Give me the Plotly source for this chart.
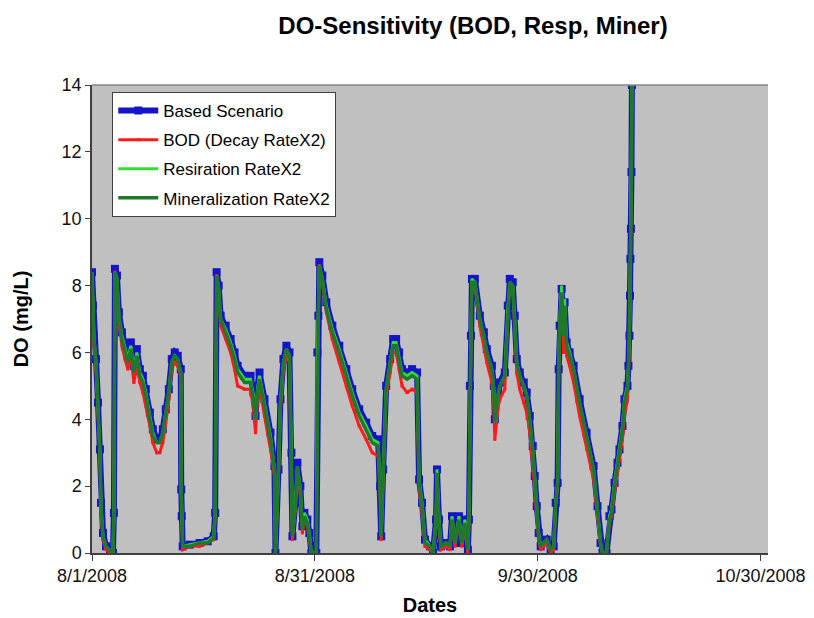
import pandas as pd
import plotly.graph_objects as go

# fractional days since 2008-08-01
days = [
    0.00, 0.13, 0.27, 0.54, 0.81, 1.07, 1.21, 1.48, 1.88, 2.42,
    2.82, 2.95, 3.09, 3.36, 3.62, 4.03, 4.43, 4.83, 5.23, 5.64,
    6.04, 6.44, 6.85, 7.25, 7.79, 8.19, 8.72, 9.13, 9.53, 9.93,
    10.34, 10.74, 11.14, 11.54, 11.95, 12.01, 12.08, 12.21, 13.15, 14.50,
    15.57, 16.38, 16.58, 16.78, 17.05, 17.32, 17.99, 18.66, 19.19, 19.60,
    20.54, 21.34, 21.74, 22.01, 22.28, 22.55, 23.22, 24.03, 24.56, 24.70,
    25.10, 25.37, 25.77, 26.17, 26.58, 26.85, 26.98, 27.38, 27.65, 28.05,
    28.32, 28.59, 28.99, 29.26, 29.53, 30.20, 30.34, 30.47, 30.60, 31.01,
    31.54, 32.35, 33.29, 34.23, 35.03, 35.97, 36.91, 37.72, 38.52, 38.79,
    38.93, 39.19, 39.60, 40.13, 40.54, 40.94, 41.34, 41.74, 42.42, 43.09,
    43.76, 44.03, 44.43, 44.83, 45.50, 45.91, 46.31, 46.44, 46.71, 46.98,
    47.65, 48.19, 48.46, 48.86, 49.40, 49.80, 50.20, 50.60, 50.74, 50.87,
    51.01, 51.14, 51.54, 52.21, 52.75, 53.15, 53.83, 54.09, 54.23, 54.63,
    54.90, 55.57, 55.97, 56.24, 56.64, 56.91, 57.18, 57.58, 58.12, 58.52,
    58.93, 59.33, 59.60, 59.87, 60.13, 60.40, 61.21, 61.74, 62.15, 62.42,
    62.68, 62.82, 62.95, 63.22, 63.49, 63.62, 63.89, 64.30, 64.83, 65.64,
    66.58, 67.52, 68.05, 68.46, 68.72, 69.26, 69.66, 69.93, 70.34, 70.74,
    71.01, 71.41, 71.68, 72.08, 72.21, 72.35, 72.42, 72.48, 72.55, 72.62, 72.68,
]

base_scenario = [
    8.4, 7.4, 6.5, 5.8, 4.5, 3.1, 1.5, 0.6, 0.2, 0.1,
    0.0, 1.2, 8.5, 8.3, 7.2, 6.6, 6.2, 5.9, 6.3, 5.6,
    6.1, 5.5, 5.3, 4.9, 4.2, 3.7, 3.4, 3.4, 3.7, 4.3,
    4.9, 5.8, 6.0, 5.9, 5.5, 1.9, 1.1, 0.2, 0.25, 0.3,
    0.35, 0.5, 1.2, 8.4, 8.0, 7.1, 6.8, 6.4, 6.0, 5.6,
    5.3, 5.3, 4.8, 4.1, 5.0, 5.4, 4.6, 3.6, 2.6, 0.0,
    2.5, 4.6, 5.8, 6.2, 6.0, 3.0, 0.5, 1.5, 2.7, 2.0,
    0.8, 1.2, 1.0, 0.6, 0.0, 0.0, 6.0, 7.1, 8.7, 8.3,
    7.5, 6.8, 6.2, 5.5, 4.9, 4.3, 3.9, 3.5, 3.4, 2.0,
    0.5, 2.5, 5.0, 5.8, 6.4, 6.4, 6.0, 5.5, 5.4, 5.5,
    5.4, 2.2, 1.5, 0.4, 0.2, 0.0, 1.0, 2.5, 1.0, 0.2,
    0.3, 0.2, 1.1, 0.3, 1.1, 0.3, 1.0, 0.1, 1.0, 5.0,
    6.5, 8.2, 8.2, 7.1, 6.6, 6.1, 5.6, 5.0, 4.0, 4.8,
    5.1, 5.4, 7.4, 8.2, 8.1, 7.1, 5.8, 5.4, 5.1, 4.8,
    4.1, 3.2, 2.3, 1.4, 0.6, 0.2, 0.4, 0.1, 0.2, 1.5,
    2.1, 5.5, 6.8, 7.9, 6.6, 7.5, 6.3, 6.0, 5.6, 4.6,
    3.6, 2.6, 1.4, 0.3, 0.0, 0.0, 1.1, 1.3, 2.1, 2.7,
    3.1, 3.8, 4.6, 5.0, 5.6, 6.5, 7.7, 8.8, 9.7, 11.4, 14.0,
]

bod_decay_x2 = [
    8.3, 7.1, 6.2, 5.5, 4.2, 2.9, 1.3, 0.4, 0.1, 0.0,
    0.0, 1.1, 8.4, 8.0, 6.9, 6.2, 5.8, 5.5, 5.9, 5.1,
    5.6, 5.1, 4.8, 4.4, 3.8, 3.3, 3.0, 3.0, 3.3, 3.9,
    4.6, 5.5, 5.7, 5.6, 5.3, 1.8, 1.0, 0.1, 0.2, 0.2,
    0.3, 0.4, 1.1, 8.3, 7.7, 6.8, 6.4, 6.0, 5.5, 5.0,
    4.9, 4.9, 4.3, 3.6, 4.6, 5.0, 4.1, 3.1, 2.3, 0.0,
    2.3, 4.3, 5.5, 5.9, 5.7, 2.8, 0.4, 1.3, 2.4, 1.7,
    0.6, 1.0, 0.8, 0.4, 0.0, 0.0, 5.9, 7.0, 8.6, 8.1,
    7.2, 6.4, 5.7, 5.0, 4.4, 3.8, 3.4, 3.0, 2.9, 1.8,
    0.4, 2.3, 4.7, 5.4, 6.0, 6.0, 5.5, 5.0, 4.8, 4.9,
    4.8, 1.9, 1.2, 0.2, 0.1, 0.0, 0.8, 2.3, 0.8, 0.1,
    0.2, 0.1, 0.9, 0.2, 0.9, 0.2, 0.8, 0.0, 0.9, 4.9,
    6.4, 8.1, 8.0, 6.8, 6.2, 5.7, 5.1, 4.4, 3.4, 4.3,
    4.6, 4.9, 7.1, 8.0, 7.9, 6.8, 5.4, 4.9, 4.5, 4.2,
    3.6, 2.7, 1.9, 1.1, 0.4, 0.1, 0.3, 0.0, 0.1, 1.4,
    2.0, 5.4, 6.6, 7.6, 6.0, 7.1, 5.9, 5.6, 5.1, 4.1,
    3.1, 2.2, 1.1, 0.2, 0.0, 0.0, 0.9, 1.1, 1.8, 2.4,
    2.8, 3.4, 4.1, 4.6, 5.3, 6.3, 7.6, 8.7, 9.6, 11.3, 14.0,
]

respiration_x2 = [
    8.4, 7.3, 6.4, 5.7, 4.4, 3.0, 1.4, 0.5, 0.2, 0.1,
    0.0, 1.2, 8.4, 8.2, 7.1, 6.5, 6.1, 5.8, 6.2, 5.5,
    6.0, 5.4, 5.2, 4.8, 4.1, 3.6, 3.3, 3.3, 3.6, 4.2,
    4.8, 5.7, 5.9, 5.8, 5.4, 1.9, 1.1, 0.2, 0.25, 0.3,
    0.35, 0.5, 1.2, 8.3, 7.9, 7.0, 6.7, 6.3, 5.9, 5.5,
    5.2, 5.2, 4.7, 4.0, 4.9, 5.3, 4.5, 3.5, 2.5, 0.0,
    2.5, 4.5, 5.7, 6.1, 5.9, 3.0, 0.5, 1.5, 2.6, 1.9,
    0.8, 1.2, 1.0, 0.6, 0.0, 0.0, 6.0, 7.1, 8.6, 8.2,
    7.4, 6.7, 6.1, 5.4, 4.8, 4.2, 3.8, 3.4, 3.3, 2.0,
    0.5, 2.5, 4.9, 5.7, 6.3, 6.3, 5.9, 5.4, 5.3, 5.4,
    5.3, 2.2, 1.5, 0.4, 0.2, 0.0, 1.0, 2.5, 1.0, 0.2,
    0.3, 0.2, 1.1, 0.3, 1.1, 0.3, 1.0, 0.1, 1.0, 5.0,
    6.5, 8.2, 8.1, 7.0, 6.5, 6.0, 5.5, 4.9, 3.9, 4.7,
    5.0, 5.3, 7.3, 8.1, 8.0, 7.0, 5.7, 5.3, 5.0, 4.7,
    4.0, 3.1, 2.2, 1.3, 0.6, 0.2, 0.4, 0.1, 0.2, 1.5,
    2.1, 5.5, 6.9, 8.0, 6.7, 7.6, 6.3, 6.0, 5.5, 4.5,
    3.5, 2.5, 1.3, 0.3, 0.0, 0.0, 1.1, 1.3, 2.1, 2.7,
    3.1, 3.8, 4.6, 5.0, 5.6, 6.5, 7.7, 8.8, 9.7, 11.4, 14.0,
]

mineralization_x2 = [
    8.4, 7.3, 6.4, 5.7, 4.4, 3.0, 1.4, 0.5, 0.2, 0.1,
    0.0, 1.2, 8.4, 8.2, 7.1, 6.4, 6.0, 5.7, 6.1, 5.4,
    5.9, 5.3, 5.1, 4.7, 4.0, 3.5, 3.3, 3.3, 3.6, 4.2,
    4.8, 5.7, 5.9, 5.8, 5.4, 1.9, 1.1, 0.2, 0.2, 0.3,
    0.3, 0.45, 1.2, 8.3, 7.9, 7.0, 6.6, 6.2, 5.8, 5.4,
    5.1, 5.1, 4.6, 4.0, 4.8, 5.2, 4.4, 3.4, 2.5, 0.0,
    2.4, 4.5, 5.7, 6.1, 5.9, 2.9, 0.5, 1.4, 2.6, 1.9,
    0.7, 1.1, 0.9, 0.5, 0.0, 0.0, 6.0, 7.1, 8.6, 8.2,
    7.3, 6.6, 6.0, 5.3, 4.7, 4.1, 3.7, 3.3, 3.2, 1.9,
    0.5, 2.4, 4.9, 5.7, 6.2, 6.2, 5.8, 5.3, 5.2, 5.3,
    5.2, 2.1, 1.4, 0.3, 0.2, 0.0, 0.9, 2.4, 0.9, 0.2,
    0.3, 0.2, 1.0, 0.3, 1.0, 0.3, 0.9, 0.1, 1.0, 5.0,
    6.5, 8.1, 8.1, 7.0, 6.5, 6.0, 5.5, 4.9, 3.9, 4.7,
    5.0, 5.3, 7.3, 8.1, 8.0, 7.0, 5.7, 5.3, 5.0, 4.7,
    4.0, 3.1, 2.2, 1.3, 0.5, 0.2, 0.4, 0.1, 0.2, 1.5,
    2.1, 5.5, 6.8, 7.8, 6.5, 7.4, 6.2, 5.9, 5.5, 4.5,
    3.5, 2.5, 1.3, 0.3, 0.0, 0.0, 1.0, 1.2, 2.0, 2.6,
    3.0, 3.7, 4.5, 4.9, 5.5, 6.4, 7.6, 8.7, 9.6, 11.3, 14.0,
]

series_names = ["Based Scenario", "BOD (Decay RateX2)", "Resiration RateX2", "Mineralization RateX2"]
tick_dates = ["2008-08-01", "2008-08-31", "2008-09-30", "2008-10-30"]
tick_labels = ["8/1/2008", "8/31/2008", "9/30/2008", "10/30/2008"]

for s in (base_scenario, bod_decay_x2, respiration_x2, mineralization_x2):
    assert len(s) == len(days)

dates = pd.Timestamp("2008-08-01") + pd.to_timedelta(days, unit="D")

fig = go.Figure()
fig.add_trace(go.Scatter(
    x=dates, y=base_scenario, name=series_names[0], mode="lines+markers",
    line=dict(color="#1414C8", width=6),
    marker=dict(symbol="square", size=8, color="#1414C8"),
    legendgroup="a",
))
fig.add_trace(go.Scatter(
    x=dates, y=bod_decay_x2, name=series_names[1], mode="lines+markers",
    line=dict(color="#FF1A1A", width=3),
    marker=dict(symbol="square", size=3, color="#FF1A1A"),
    legendgroup="b",
))
fig.add_trace(go.Scatter(
    x=dates, y=respiration_x2, name=series_names[2], mode="lines",
    line=dict(color="#33DD33", width=3),
    legendgroup="c",
))
fig.add_trace(go.Scatter(
    x=dates, y=mineralization_x2, name=series_names[3], mode="lines",
    line=dict(color="#1E7A2A", width=3.5),
    legendgroup="d",
))

font_family = "Liberation Sans, Arial, sans-serif"

fig.update_layout(
    width=814, height=618,
    margin=dict(l=84, r=54, t=77, b=73),
    paper_bgcolor="white",
    plot_bgcolor="#C0C0C0",
    font=dict(family=font_family, size=17, color="black"),
    title=dict(
        text="<b>DO-Sensitivity (BOD, Resp, Miner)</b>",
        x=0.5636, xanchor="center", xref="paper",
        y=0.971, yanchor="middle", yref="container",
        font=dict(size=24, family=font_family, color="black"),
    ),
    showlegend=True,
    legend=dict(
        x=0.03, y=0.985, xanchor="left", yanchor="top",
        bgcolor="white", bordercolor="#404040", borderwidth=1,
        font=dict(size=17, family=font_family, color="black"),
        tracegroupgap=4,
        itemwidth=40,
    ),
    xaxis=dict(
        type="date",
        range=["2008-08-01", "2008-10-31"],
        tickvals=tick_dates, ticktext=tick_labels,
        ticks="outside", ticklen=6, tickcolor="#404040",
        showgrid=False, zeroline=False,
        showline=True, linecolor="#404040", linewidth=1.5,
        tickfont=dict(size=18, color="#111111"),
        title=dict(text="<b>Dates</b>", font=dict(size=20), standoff=13),
    ),
    yaxis=dict(
        range=[0, 14], dtick=2,
        ticks="outside", ticklen=5, tickcolor="#404040",
        showgrid=False, zeroline=False,
        showline=True, linecolor="#404040", linewidth=1.5,
        tickfont=dict(size=18, color="#111111"),
        title=dict(text="<b>DO (mg/L)</b>", font=dict(size=20), standoff=28),
    ),
    shapes=[dict(type="line", xref="paper", yref="paper", x0=0, x1=1, y0=1, y1=1,
                 line=dict(color="#888888", width=1.5))],
)

fig.write_html("out.html")
